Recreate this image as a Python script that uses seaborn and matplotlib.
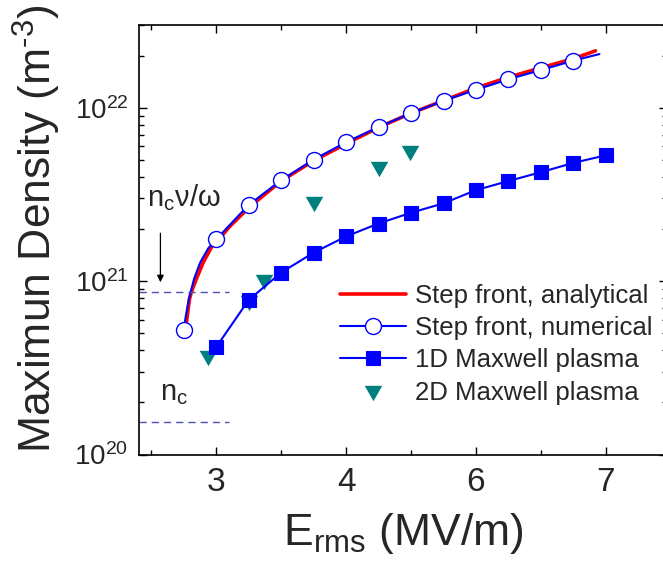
import numpy as np
import pandas as pd
import matplotlib
matplotlib.use("Agg")
import matplotlib.pyplot as plt
from matplotlib.ticker import LogLocator, NullFormatter, AutoMinorLocator
import seaborn as sns

# --- data (x in axis position units) ---
# analytical step front (red curve)
ANA_E = [2.765, 2.78, 2.795, 2.81, 2.85, 2.90, 2.97, 3.02, 3.10, 3.25, 3.5, 3.75,
         4.0, 4.25, 4.5, 4.75, 5.0, 5.25, 5.5, 5.75, 5.92]
ANA_N = [5.3e20, 6.5e20, 7.9e20, 8.7e20, 1.04e21, 1.28e21, 1.6e21, 1.74e21, 2.05e21,
         2.65e21, 3.78e21, 4.95e21, 6.2e21, 7.7e21, 9.3e21, 1.1e22, 1.3e22, 1.5e22,
         1.7e22, 1.92e22, 2.13e22]

# numerical step front: marker points (open circles)
NUM_E = [2.75, 3.0, 3.25, 3.5, 3.75, 4.0, 4.25, 4.5, 4.75, 5.0, 5.25, 5.5, 5.75]
NUM_N = [5.2e20, 1.74e21, 2.75e21, 3.82e21, 5.02e21, 6.33e21, 7.74e21, 9.3e21,
         1.097e22, 1.27e22, 1.46e22, 1.65e22, 1.87e22]
# numerical step front: extra curve points without markers
NUM_EXTRA_E = [2.765, 2.79, 2.83, 2.877, 2.94, 5.95]
NUM_EXTRA_N = [6.2e20, 7.9e20, 1.03e21, 1.28e21, 1.55e21, 2.04e22]

# 1D Maxwell plasma (filled squares)
MAX1D_E = [3.0, 3.25, 3.5, 3.75, 4.0, 4.25, 4.5, 4.75, 5.0, 5.25, 5.5, 5.75, 6.0]
MAX1D_N = [4.16e20, 7.78e20, 1.12e21, 1.46e21, 1.81e21, 2.15e21, 2.48e21, 2.81e21,
           3.35e21, 3.78e21, 4.25e21, 4.81e21, 5.32e21]

# 2D Maxwell plasma (triangles)
MAX2D_E = [2.94, 3.25, 3.37, 3.75, 4.25, 4.49]
MAX2D_N = [3.6e20, 7.5e20, 9.9e20, 2.77e21, 4.45e21, 5.45e21]

# reference densities
N_C = 1.53e20
N_C_NU_OMEGA = 8.7e20
REF_E_END = 3.1

X_TICKS = [3, 4, 5, 6]
X_TICK_LABELS = ["3", "4", "6", "7"]

# --- style ---
sns.set_style("ticks")
plt.rcParams["font.family"] = ["Liberation Sans", "DejaVu Sans"]
plt.rcParams["mathtext.fontset"] = "custom"
plt.rcParams["mathtext.rm"] = "Liberation Sans"
plt.rcParams["mathtext.it"] = "Liberation Sans:italic"
plt.rcParams["mathtext.bf"] = "Liberation Sans:bold"
plt.rcParams["mathtext.default"] = "regular"

fig = plt.figure(figsize=(6.63, 5.69), dpi=100)
ax = fig.add_axes([0.2104, 0.2012, 0.7956, 0.7548])

# numerical line: merge marker points with extra curve points
num = pd.concat([
    pd.DataFrame({"E": NUM_E, "n": NUM_N, "mark": True}),
    pd.DataFrame({"E": NUM_EXTRA_E, "n": NUM_EXTRA_N, "mark": False}),
]).sort_values("E").reset_index(drop=True)

sns.lineplot(x=ANA_E, y=ANA_N, ax=ax, color="red", linewidth=2.6,
             label="Step front, analytical", sort=False, estimator=None)
sns.lineplot(data=num, x="E", y="n", ax=ax, color="blue", linewidth=1.5,
             marker="o", markersize=11.5, markerfacecolor="white",
             markeredgecolor="blue", markeredgewidth=1.0,
             markevery=list(num["mark"]), sort=False, estimator=None,
             label="Step front, numerical")
sns.lineplot(x=MAX1D_E, y=MAX1D_N, ax=ax, color="blue", linewidth=1.5,
             marker="s", markersize=10.5, markeredgecolor="blue",
             markeredgewidth=0.8, sort=False, estimator=None,
             label="1D Maxwell plasma")
tri = [(-1, 0.875), (1, 0.875), (0, -0.875)]
sns.scatterplot(x=MAX2D_E, y=MAX2D_N, ax=ax, color="#007f7f", marker=tri,
                s=160, linewidth=0, label="2D Maxwell plasma")

# critical density references
for level in (N_C, N_C_NU_OMEGA):
    ax.plot([2.41, REF_E_END], [level, level], color="#4f4fb5", linewidth=1.0,
            dashes=(5.2, 3.6))

ax.text(2.471, 2.69e21, r"n$_\mathregular{c}$ν/ω", fontsize=21, va="baseline")
ax.text(2.564, 2.07e20, r"n$_\mathregular{c}$", fontsize=21, va="baseline")
ax.annotate("", xy=(2.571, 9.5e20), xytext=(2.571, 1.96e21),
            arrowprops=dict(arrowstyle="-|>", color="black", lw=0.9,
                            mutation_scale=10))

ax.set_yscale("log")
ax.set_xlim(2.41, 6.47)
ax.set_ylim(1e20, 3.0e22)
ax.set_xticks(X_TICKS, X_TICK_LABELS)
ax.xaxis.set_minor_locator(AutoMinorLocator(2))
ax.yaxis.set_major_locator(LogLocator(base=10))
ax.yaxis.set_minor_locator(LogLocator(base=10, subs=np.arange(2, 10)))
ax.yaxis.set_minor_formatter(NullFormatter())

ax.tick_params(which="both", direction="in", top=True, right=True,
               color="black", width=1.0)
ax.tick_params(which="major", length=6)
ax.tick_params(which="minor", length=3.5)
ax.tick_params(axis="x", which="major", labelsize=24, pad=9)
ax.tick_params(axis="y", which="major", labelsize=20, pad=8)
for sp in ax.spines.values():
    sp.set_linewidth(1.2)
    sp.set_color("black")

ax.set_xlabel(r"E$_\mathregular{rms}$ (MV/m)", fontsize=32)
ax.set_ylabel(r"Maximun Density (m$^{\text{-3}}$)", fontsize=32)
ax.xaxis.set_label_coords(0.501, -0.1315)
ax.yaxis.set_label_coords(-0.145, 0.527)

ax.legend(loc="upper left", bbox_to_anchor=(0.38, 0.397), frameon=False,
          fontsize=18.5, handlelength=2.58, handletextpad=0.33,
          labelspacing=0.32, borderpad=0, borderaxespad=0)

fig.savefig("out.png", dpi=100)
